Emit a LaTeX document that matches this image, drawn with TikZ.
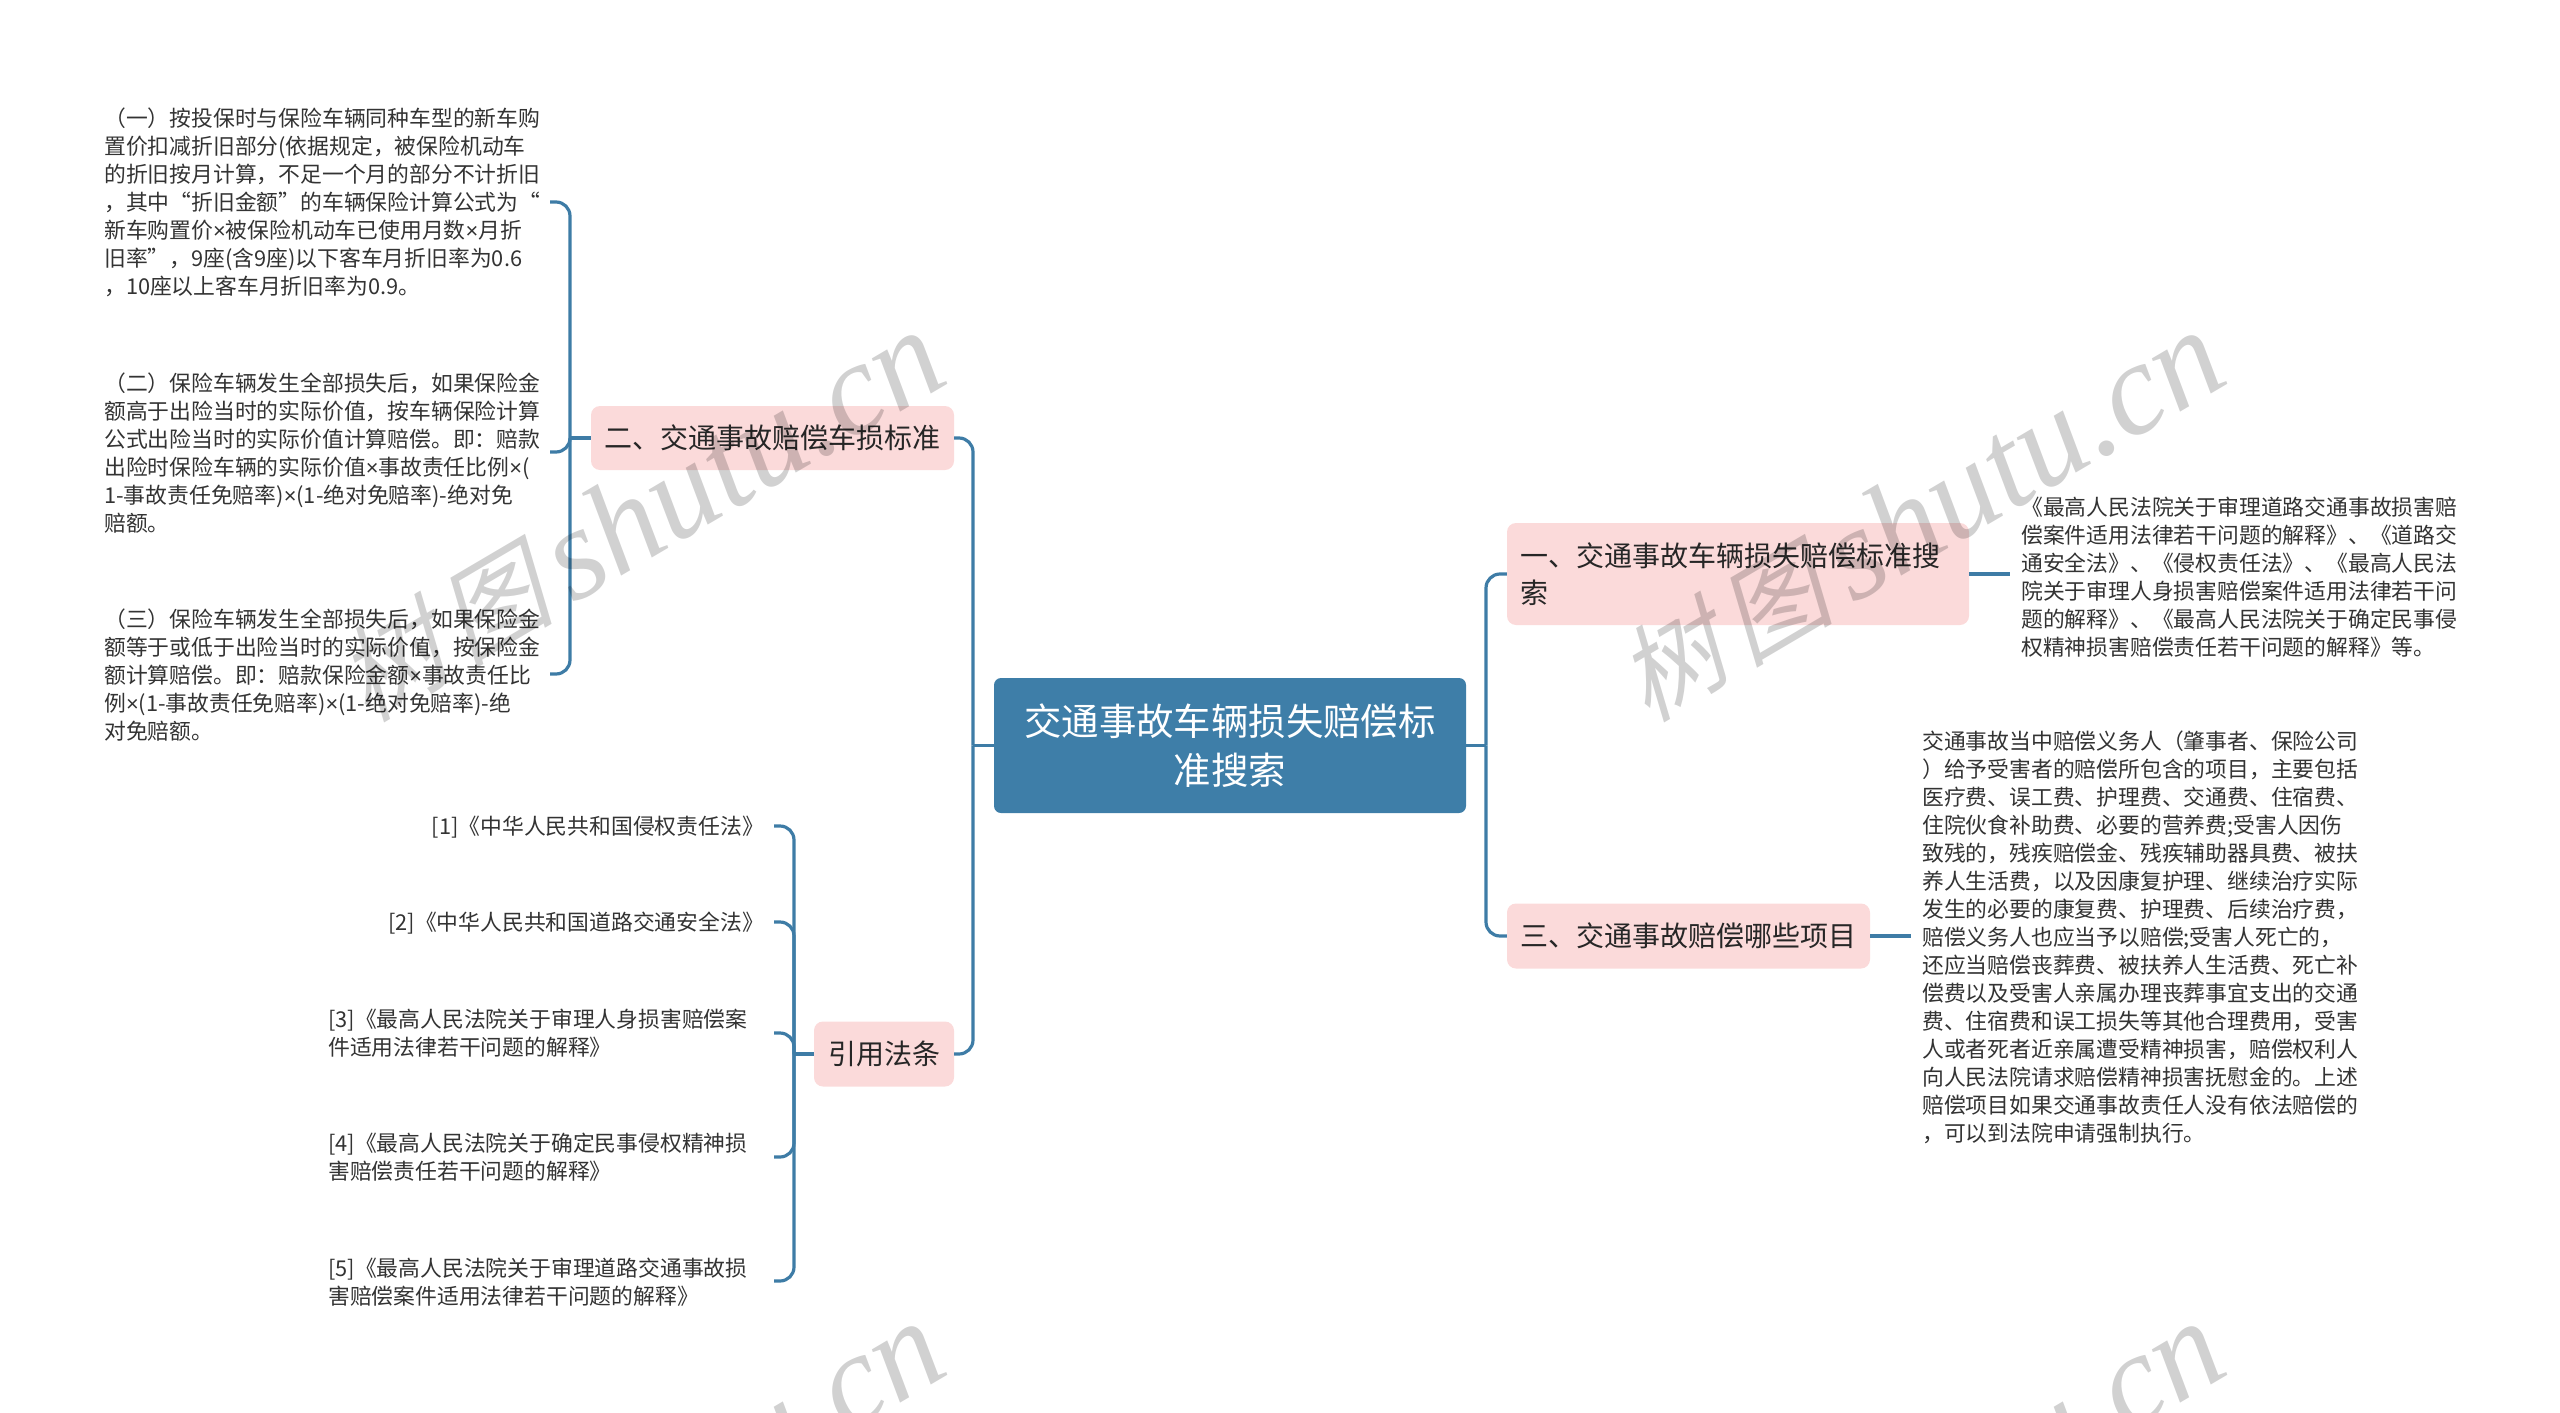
\documentclass[tikz,border=0pt]{standalone}
\usepackage{fontspec}
\setmainfont{Noto Sans CJK SC}
\newfontfamily\wmcjk[FakeSlant=0.25]{Noto Sans CJK SC}
\newfontfamily\wmlat{Liberation Serif}
\newfontfamily\mulfont{Liberation Sans}
\newcommand{\mulsign}{{\mulfont ×}}
\definecolor{linkblue}{HTML}{3E7CA6}
\definecolor{rootblue}{HTML}{3E7EA8}
\definecolor{pinkfill}{HTML}{FBDADA}
\definecolor{bodyink}{HTML}{333333}
\tikzset{
  conn/.style={draw=linkblue,line width=3.2pt,rounded corners=14pt},
  rootbox/.style={fill=rootblue,rounded corners=7pt,text=white,align=center,font=\fontsize{37.4}{49}\selectfont,inner sep=0pt},
  topicbox/.style={fill=pinkfill,rounded corners=9pt,text=black!85,align=left,font=\fontsize{28}{37}\selectfont,inner sep=0pt},
  bodytext/.style={text=bodyink,align=left,inner sep=0pt,font=\fontsize{21.8}{28}\selectfont},
  watermark/.style={text=black,opacity=.18,rotate=30.5,anchor=base east,inner sep=0pt},
}
\newcommand{\wmtext}{\raisebox{2pt}{\fontsize{104}{104}\selectfont\wmcjk 树\kern 12pt 图}\kern 18pt{\fontsize{131}{131}\selectfont\wmlat\itshape shutu.cn}}
\begin{document}
\begin{tikzpicture}[x=1pt,y=-1pt]
\useasboundingbox (0,0) rectangle (2560,1413);
\clip (0,0) rectangle (2560,1413);
% main nodes
\node[rootbox,minimum width=472pt,minimum height=135pt] (root) at (1230,745.5) {交通事故车辆损失赔偿标\\准搜索};
\node[topicbox,minimum width=363pt,minimum height=64pt,align=center] (n2) at (772.5,438) {二、交通事故赔偿车损标准};
\node[topicbox,minimum width=140pt,minimum height=65pt,align=center] (nref) at (884,1054) {引用法条};
\node[topicbox,minimum width=462pt,minimum height=102pt,text width=436pt] (n1) at (1738,574) {一、交通事故车辆损失赔偿标准搜\\索};
\node[topicbox,minimum width=363pt,minimum height=65pt,align=center] (n3) at (1688.5,936) {三、交通事故赔偿哪些项目};
% left text
\node[bodytext,anchor=west] (t1) at (104,202.5) {（一）按投保时与保险车辆同种车型的新车购\\置价扣减折旧部分(依据规定，被保险机动车\\的折旧按月计算，不足一个月的部分不计折旧\\，其中“折旧金额”的车辆保险计算公式为“\\新车购置价\mulsign 被保险机动车已使用月数\mulsign 月折\\旧率”，9座(含9座)以下客车月折旧率为0.6\\，10座以上客车月折旧率为0.9。};
\node[bodytext,anchor=west] (t2) at (104,453) {（二）保险车辆发生全部损失后，如果保险金\\额高于出险当时的实际价值，按车辆保险计算\\公式出险当时的实际价值计算赔偿。即：赔款\\出险时保险车辆的实际价值\mulsign 事故责任比例\mulsign (\\1-事故责任免赔率)\mulsign (1-绝对免赔率)-绝对免\\赔额。};
\node[bodytext,anchor=west] (t3) at (104,675) {（三）保险车辆发生全部损失后，如果保险金\\额等于或低于出险当时的实际价值，按保险金\\额计算赔偿。即：赔款保险金额\mulsign 事故责任比\\例\mulsign (1-事故责任免赔率)\mulsign (1-绝对免赔率)-绝\\对免赔额。};
% references
\node[bodytext,anchor=east] (r1) at (764,827) {[1]《中华人民共和国侵权责任法》};
\node[bodytext,anchor=east] (r2) at (764,923) {[2]《中华人民共和国道路交通安全法》};
\node[bodytext,anchor=west] (r3) at (328,1033) {[3]《最高人民法院关于审理人身损害赔偿案\\件适用法律若干问题的解释》};
\node[bodytext,anchor=west] (r4) at (328,1157) {[4]《最高人民法院关于确定民事侵权精神损\\害赔偿责任若干问题的解释》};
\node[bodytext,anchor=west] (r5) at (328,1282) {[5]《最高人民法院关于审理道路交通事故损\\害赔偿案件适用法律若干问题的解释》};
% right text
\node[bodytext,anchor=west] (d1) at (2021,577) {《最高人民法院关于审理道路交通事故损害赔\\偿案件适用法律若干问题的解释》、《道路交\\通安全法》、《侵权责任法》、《最高人民法\\院关于审理人身损害赔偿案件适用法律若干问\\题的解释》、《最高人民法院关于确定民事侵\\权精神损害赔偿责任若干问题的解释》等。};
\node[bodytext,anchor=west] (d3) at (1922,937.5) {交通事故当中赔偿义务人（肇事者、保险公司\\）给予受害者的赔偿所包含的项目，主要包括\\医疗费、误工费、护理费、交通费、住宿费、\\住院伙食补助费、必要的营养费;受害人因伤\\致残的，残疾赔偿金、残疾辅助器具费、被扶\\养人生活费，以及因康复护理、继续治疗实际\\发生的必要的康复费、护理费、后续治疗费，\\赔偿义务人也应当予以赔偿;受害人死亡的，\\还应当赔偿丧葬费、被扶养人生活费、死亡补\\偿费以及受害人亲属办理丧葬事宜支出的交通\\费、住宿费和误工损失等其他合理费用，受害\\人或者死者近亲属遭受精神损害，赔偿权利人\\向人民法院请求赔偿精神损害抚慰金的。上述\\赔偿项目如果交通事故责任人没有依法赔偿的\\，可以到法院申请强制执行。};
% hubs and free ends
\coordinate (hubL) at (973,745.5);
\coordinate (hubR) at (1486,745.5);
\coordinate (hub2) at (570,438);
\coordinate (hubref) at (794,1054);
\coordinate (e1) at (550,202);
\coordinate (e2) at (550,452);
\coordinate (e3) at (550,674);
\coordinate (f1) at (774,826);
\coordinate (f2) at (774,922);
\coordinate (f3) at (774,1033);
\coordinate (f4) at (774,1157);
\coordinate (f5) at (774,1281);
\coordinate (g1) at (2010,574);
\coordinate (g3) at (1911,936);
% connectors
\draw[conn] (root.west) -- (hubL);
\draw[conn] (hubL) |- (n2.east);
\draw[conn] (hubL) |- (nref.east);
\draw[conn] (root.east) -- (hubR);
\draw[conn] (hubR) |- (n1.west);
\draw[conn] (hubR) |- (n3.west);
\draw[conn] (n2.west) -- (hub2);
\draw[conn] (hub2) |- (e1);
\draw[conn] (hub2) |- (e2);
\draw[conn] (hub2) |- (e3);
\draw[conn] (nref.west) -- (hubref);
\draw[conn] (hubref) |- (f1);
\draw[conn] (hubref) |- (f2);
\draw[conn] (hubref) |- (f3);
\draw[conn] (hubref) |- (f4);
\draw[conn] (hubref) |- (f5);
\draw[conn] (n1.east) -- (g1);
\draw[conn] (n3.east) -- (g3);
% watermarks
\node[watermark] (wmA) at (953,381) {\wmtext};
\node[watermark] (wmB) at (2233,381) {\wmtext};
\node[watermark] (wmC) at (953,1372) {\wmtext};
\node[watermark] (wmD) at (2233,1372) {\wmtext};
\end{tikzpicture}
\end{document}
